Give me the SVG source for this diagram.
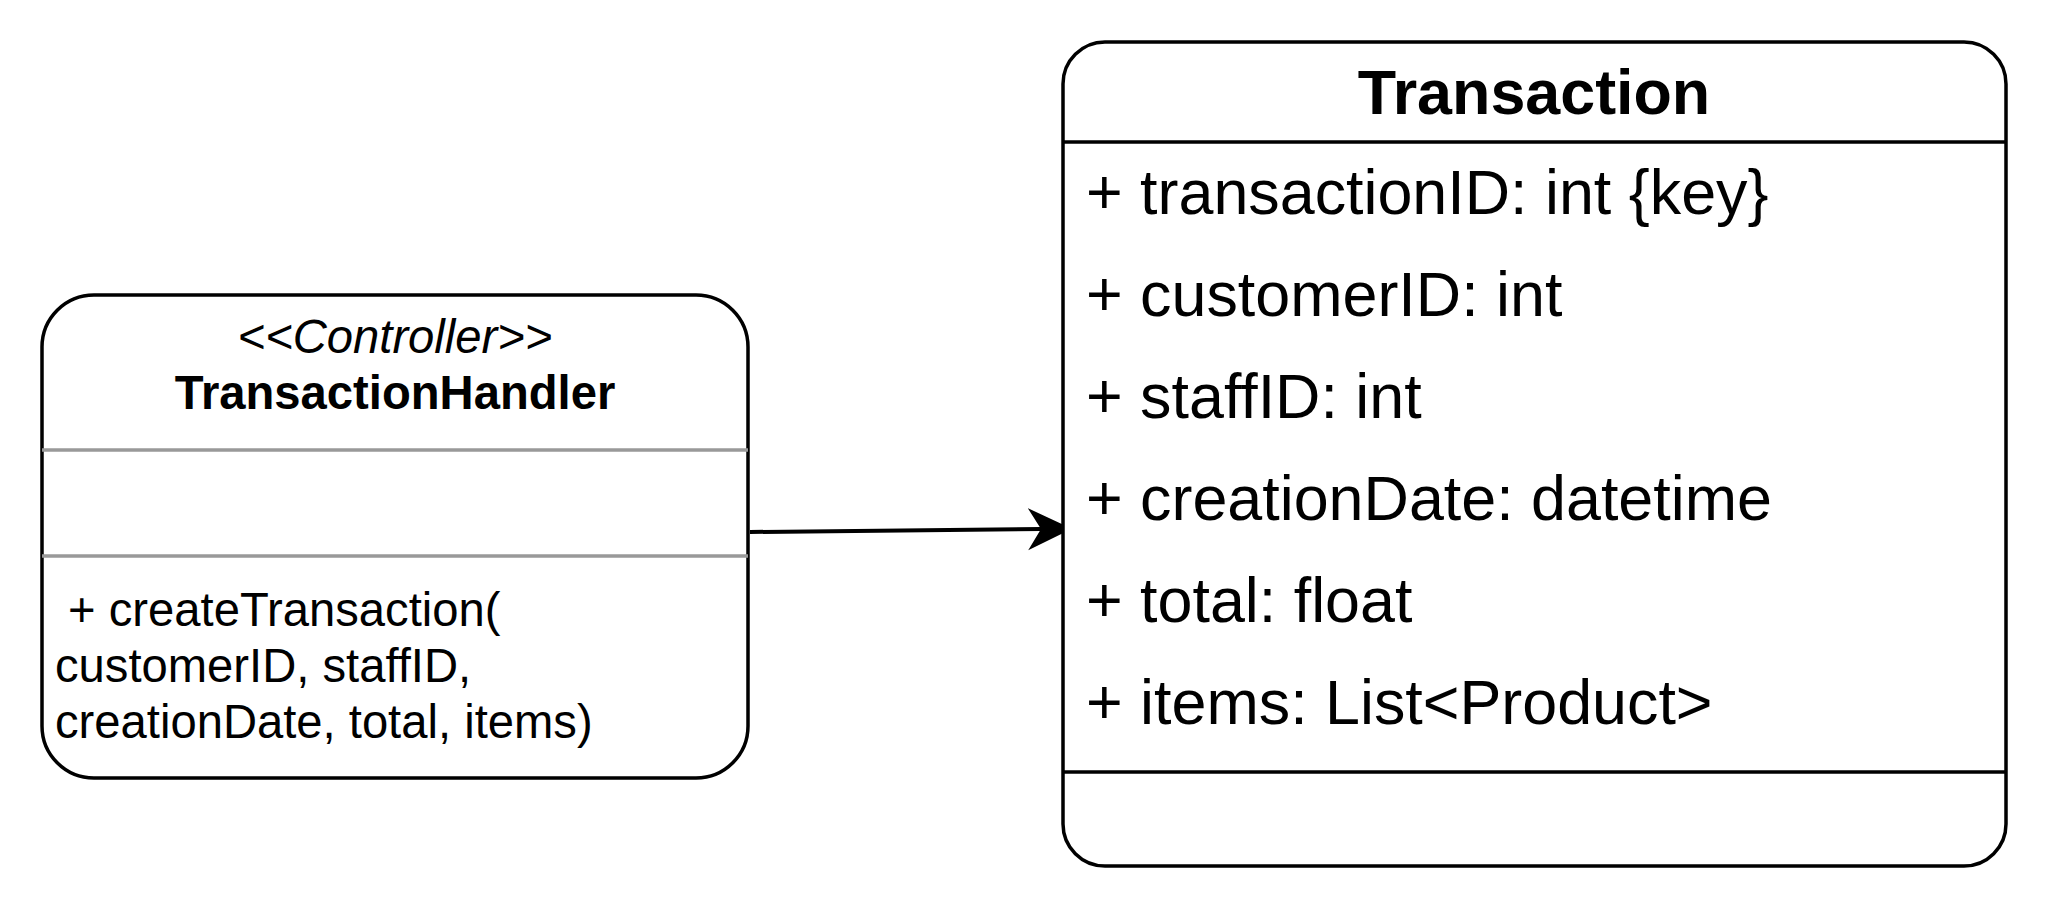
<svg xmlns="http://www.w3.org/2000/svg" width="2048" height="908" viewBox="0 0 2048 908">
<style>
.box{fill:#fff;stroke:#000;stroke-width:3.5}
.sep{stroke:#000;stroke-width:3.5}
.gsep{stroke:#999;stroke-width:3.5}
.t{font-family:"Liberation Sans",Arial,sans-serif;fill:#000}
.s{font-size:47.2px}
.l{font-size:62.8px}
.c{text-anchor:middle}
.b{font-weight:bold}
.i{font-style:italic}
.edge{fill:none;stroke:#000;stroke-width:4}
</style>
<defs>
<marker id="arr" markerUnits="userSpaceOnUse" markerWidth="60" markerHeight="60" viewBox="0 0 60 60" refX="13" refY="30" orient="auto">
<path d="M0,9 L44,30 L0,51 L13,30 Z" fill="#000" stroke="none"/>
</marker>
</defs>
<rect width="2048" height="908" fill="#fff"/>
<g id="connectors">
<path class="edge" d="M750,532 L1041,529" marker-end="url(#arr)"/>
</g>
<g id="TransactionHandler">
<rect class="box" x="42" y="295" width="706" height="483" rx="52" ry="52"/>
<line class="gsep" x1="42" y1="450" x2="748" y2="450"/>
<line class="gsep" x1="42" y1="556" x2="748" y2="556"/>
<text class="t s c i" x="395" y="353">&lt;&lt;Controller&gt;&gt;</text>
<text class="t s c b" x="395" y="409">TransactionHandler</text>
<text class="t s" x="55" y="626" xml:space="preserve"> + createTransaction(</text>
<text class="t s" x="55" y="682">customerID, staffID,</text>
<text class="t s" x="55" y="738">creationDate, total, items)</text>
</g>
<g id="Transaction">
<rect class="box" x="1063" y="42" width="943" height="824" rx="42" ry="42"/>
<line class="sep" x1="1063" y1="142" x2="2006" y2="142"/>
<line class="sep" x1="1063" y1="772" x2="2006" y2="772"/>
<text class="t l c b" x="1534" y="114">Transaction</text>
<text class="t l" x="1086" y="214">+ transactionID: int {key}</text>
<text class="t l" x="1086" y="316">+ customerID: int</text>
<text class="t l" x="1086" y="418">+ staffID: int</text>
<text class="t l" x="1086" y="520">+ creationDate: datetime</text>
<text class="t l" x="1086" y="622">+ total: float</text>
<text class="t l" x="1086" y="724">+ items: List&lt;Product&gt;</text>
</g>
</svg>
